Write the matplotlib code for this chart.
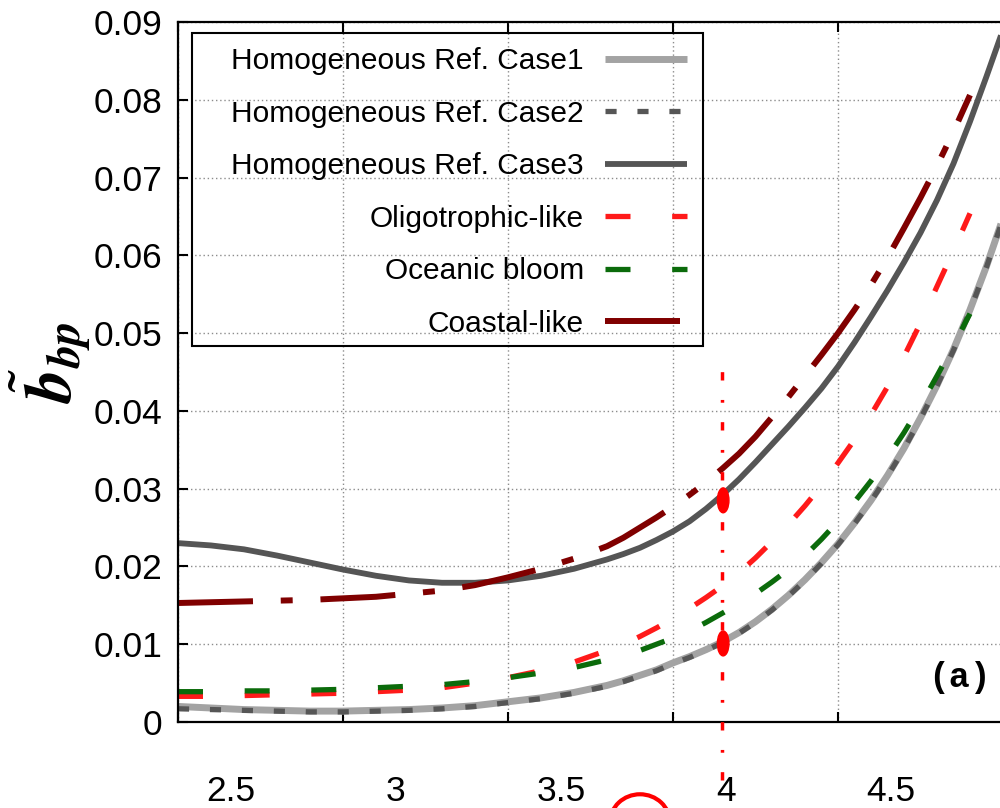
import matplotlib
matplotlib.use('Agg')
import matplotlib.pyplot as plt
from matplotlib.transforms import ScaledTranslation
from matplotlib.patches import Rectangle, Ellipse

# sampled every 0.1 up to 3.7, then every 0.05 where the curves get steep
x_full = [2.5, 2.6, 2.7, 2.8, 2.9, 3.0, 3.1, 3.2, 3.3, 3.4, 3.5, 3.6, 3.7,
          3.8, 3.85, 3.9, 3.95, 4.0, 4.05, 4.1, 4.15, 4.2, 4.25, 4.3, 4.35,
          4.4, 4.45, 4.5, 4.55, 4.6, 4.65, 4.7, 4.75, 4.8, 4.85, 4.9, 4.95, 5.0]
x_short = x_full[:-2]

case1 = [0.0020, 0.0018, 0.0016, 0.0015, 0.0014, 0.0014, 0.0015, 0.0016, 0.0018,
         0.0021, 0.0026, 0.0031, 0.0038,
         0.0047, 0.0053, 0.0060, 0.0067, 0.0076, 0.0084, 0.0093, 0.0103, 0.0115,
         0.0129, 0.0145, 0.0163, 0.0183, 0.0205, 0.0229, 0.0256, 0.0285, 0.0317,
         0.0352, 0.0391, 0.0433, 0.0479, 0.0530, 0.0586, 0.0648]
case2 = [0.0017, 0.0016, 0.0015, 0.0014, 0.0013, 0.0013, 0.0014, 0.0015, 0.0017,
         0.0020, 0.0025, 0.0030, 0.0037,
         0.0046, 0.0052, 0.0059, 0.0066, 0.0075, 0.0083, 0.0092, 0.0102, 0.0114,
         0.0128, 0.0144, 0.0162, 0.0182, 0.0204, 0.0228, 0.0255, 0.0284, 0.0316,
         0.0351, 0.0390, 0.0432, 0.0478, 0.0529, 0.0585, 0.0647]
case3 = [0.0230, 0.0227, 0.0222, 0.0214, 0.0205, 0.0196, 0.0188, 0.0182, 0.0179,
         0.0179, 0.0182, 0.0188, 0.0197,
         0.0209, 0.0216, 0.0224, 0.0234, 0.0245, 0.0258, 0.0274, 0.0292, 0.0312,
         0.0334, 0.0357, 0.0380, 0.0404, 0.0429, 0.0457, 0.0488, 0.0521, 0.0555,
         0.0591, 0.0629, 0.0671, 0.0718, 0.0772, 0.0830, 0.0890]
oligo = [0.0033, 0.0033, 0.0034, 0.0035, 0.0036, 0.0037, 0.0039, 0.0041, 0.0044,
         0.0050, 0.0057, 0.0066, 0.0077,
         0.0092, 0.0100, 0.0110, 0.0121, 0.0133, 0.0146, 0.0160, 0.0175, 0.0192,
         0.0211, 0.0232, 0.0254, 0.0278, 0.0304, 0.0333, 0.0363, 0.0395, 0.0431,
         0.0470, 0.0513, 0.0560, 0.0606, 0.0654]
bloom = [0.0039, 0.0039, 0.0040, 0.0040, 0.0041, 0.0042, 0.0044, 0.0046, 0.0048,
         0.0052, 0.0057, 0.0063, 0.0070,
         0.0080, 0.0086, 0.0092, 0.0100, 0.0108, 0.0117, 0.0128, 0.0140, 0.0152,
         0.0165, 0.0180, 0.0196, 0.0214, 0.0235, 0.0258, 0.0283, 0.0310, 0.0340,
         0.0372, 0.0407, 0.0445, 0.0484, 0.0525]
coastal = [0.0153, 0.0154, 0.0155, 0.0156, 0.0157, 0.0159, 0.0161, 0.0165, 0.0169,
           0.0176, 0.0186, 0.0197, 0.0210,
           0.0226, 0.0237, 0.0250, 0.0263, 0.0277, 0.0292, 0.0308, 0.0326, 0.0345,
           0.0367, 0.0392, 0.0418, 0.0445, 0.0472, 0.0500, 0.0530, 0.0562, 0.0597,
           0.0635, 0.0674, 0.0715, 0.0759, 0.0806]

labels = ['Homogeneous Ref. Case1', 'Homogeneous Ref. Case2', 'Homogeneous Ref. Case3',
          'Oligotrophic-like', 'Oceanic bloom', 'Coastal-like']
xticks = [2.5, 3, 3.5, 4, 4.5]
xticklabels = ['2.5', '3', '3.5', '4', '4.5']
yticks = [0, 0.01, 0.02, 0.03, 0.04, 0.05, 0.06, 0.07, 0.08, 0.09]
yticklabels = ['0', '0.01', '0.02', '0.03', '0.04', '0.05', '0.06', '0.07', '0.08', '0.09']

plt.rcParams['font.family'] = ['Liberation Sans', 'DejaVu Sans']
plt.rcParams['mathtext.fontset'] = 'stix'
plt.rcParams['lines.scale_dashes'] = False

fig = plt.figure(figsize=(10, 8.08), dpi=100)
ax = fig.add_axes([0.178, 86 / 808, 0.825, 700 / 808])

ax.plot(x_full, case1, color='#a3a3a3', lw=5, solid_capstyle='butt', label=labels[0])
ax.plot(x_full, case2, color='#565656', lw=3.8, dashes=(8, 15), label=labels[1])
ax.plot(x_full, case3, color='#555555', lw=4.2, solid_capstyle='butt', label=labels[2])
ax.plot(x_short, oligo, color='#ff1a1a', lw=3.8, dashes=(18, 30), label=labels[3])
ax.plot(x_short, bloom, color='#0b6b0b', lw=3.8, dashes=(18, 30), label=labels[4])
ax.plot(x_short, coastal, color='#800000', lw=4.3, dashes=(54, 20, 8.6, 20), label=labels[5])

ax.set_xlim(2.5, 5.0)
ax.set_ylim(0, 0.09)
ax.set_yticks(yticks)
ax.set_yticklabels(yticklabels)
ax.set_xticks(xticks)
ax.set_xticklabels(xticklabels)
ax.grid(True, linestyle=(0, (1, 2)), color='#8c8c8c', lw=1)
ax.spines['right'].set_visible(False)
for s in ['left', 'bottom', 'top']:
    ax.spines[s].set_linewidth(1.6)
ax.tick_params(axis='both', direction='in', length=7, width=1.5, labelsize=25.5)
ax.tick_params(axis='x', top=True, pad=38)
ax.tick_params(axis='y', pad=11)

# x tick labels sit to the right of their ticks in the source figure
offset = ScaledTranslation(0.53, 0, fig.dpi_scale_trans)
for lab in ax.get_xticklabels():
    lab.set_transform(lab.get_transform() + offset)

ax.set_ylabel(r'$\tilde{\mathbfit{b}}_{\mathbfit{bp}}$', fontsize=48)
ax.yaxis.set_label_coords(-0.103, 0.514)

leg = ax.legend(loc='upper right', bbox_to_anchor=(0.617, 0.964), frameon=False,
                markerfirst=False, fontsize=21.5, handlelength=2.75, handletextpad=0.70,
                labelspacing=0.82, borderpad=0, borderaxespad=0)
ax.add_patch(Rectangle((0.017, 0.537), 0.619, 0.447, transform=ax.transAxes,
                       fill=False, edgecolor='black', lw=1.5, zorder=5))

ax.text(0.947, 0.063, '(a)', transform=ax.transAxes, ha='center', va='center',
        fontsize=25, fontweight='bold', family='Liberation Mono')

# hand-drawn red marks
ax.plot([4.148, 4.148], [-0.0075, 0.046], color='#ff0000', lw=2.5,
        dashes=(6, 14, 2, 14), clip_on=False, zorder=6)
ax.add_patch(Ellipse((4.152, 0.0285), 0.035, 0.0032, color='#ff0000', zorder=6))
ax.add_patch(Ellipse((4.152, 0.0101), 0.035, 0.0032, color='#ff0000', zorder=6))
fig.patches.append(Ellipse((0.64, -0.018), 0.06, 0.07, transform=fig.transFigure,
                           fill=False, edgecolor='#ff0000', lw=3))

plt.savefig('out.png', dpi=100)
